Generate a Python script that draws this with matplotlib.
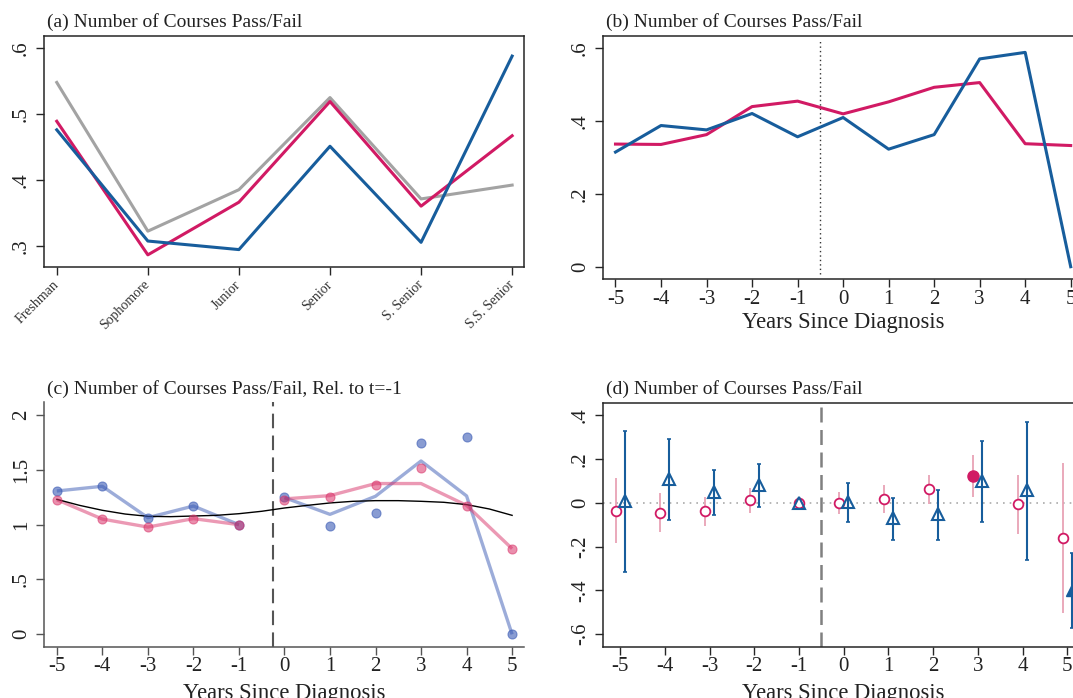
import matplotlib
matplotlib.use("Agg")
import matplotlib.pyplot as plt
import numpy as np

plt.rcParams["font.family"] = ["Liberation Serif", "DejaVu Serif"]
plt.rcParams["axes.unicode_minus"] = False

# ---------------------------------------------------------------- data
class_labels = ["Freshman", "Sophomore", "Junior", "Senior", "S. Senior", "S.S. Senior"]
a_gray = [0.548, 0.322, 0.385, 0.525, 0.371, 0.392]
a_red = [0.489, 0.286, 0.366, 0.519, 0.360, 0.467]
a_blue = [0.476, 0.307, 0.294, 0.451, 0.305, 0.588]

years = [-5, -4, -3, -2, -1, 0, 1, 2, 3, 4, 5]
b_red = [0.337, 0.336, 0.363, 0.440, 0.455, 0.420, 0.453, 0.493, 0.506, 0.338, 0.333]
b_blue = [0.315, 0.388, 0.376, 0.421, 0.357, 0.410, 0.323, 0.363, 0.571, 0.589, 0.0]

c_blue_dots = [1.307, 1.350, 1.064, 1.170, 1.0, 1.250, 0.987, 1.106, 1.743, 1.795, 0.0]
c_red_dots = [1.228, 1.051, 0.978, 1.055, 1.0, 1.222, 1.253, 1.362, 1.521, 1.167, 0.781]
c_blue_line = [1.307, 1.350, 1.064, 1.170, 1.0, 1.247, 1.094, 1.259, 1.581, 1.262, 0.0]
c_red_line = [1.228, 1.051, 0.978, 1.055, 1.0, 1.235, 1.265, 1.375, 1.375, 1.176, 0.781]
c_fit_x = [-5, -4.5, -4, -3.5, -3, -2.5, -2, -1.5, -1, -0.5, 0,
           0.5, 1, 1.5, 2, 2.5, 3, 3.5, 4, 4.5, 5]
c_fit_y = [1.231, 1.176, 1.131, 1.097, 1.076, 1.073, 1.079, 1.085, 1.100, 1.122, 1.152,
           1.176, 1.198, 1.213, 1.219, 1.219, 1.213, 1.204, 1.183, 1.143, 1.085]

d_red = [-0.038, -0.046, -0.040, 0.014, 0.0, 0.0, 0.017, 0.061, 0.123, -0.008, -0.163]
d_red_lo = [-0.182, -0.133, -0.105, -0.046, 0.0, -0.052, -0.049, -0.008, 0.027, -0.141, -0.505]
d_red_hi = [0.111, 0.043, 0.027, 0.067, 0.0, 0.049, 0.079, 0.128, 0.219, 0.125, 0.181]
d_blue = [0.007, 0.107, 0.049, 0.081, 0.0, 0.003, -0.071, -0.052, 0.099, 0.056, -0.398]
d_blue_lo = [-0.317, -0.079, -0.056, -0.021, 0.0, -0.088, -0.172, -0.172, -0.090, -0.261, -0.571]
d_blue_hi = [0.327, 0.289, 0.150, 0.176, 0.0, 0.090, 0.023, 0.059, 0.281, 0.369, -0.231]

titles = ["(a) Number of Courses Pass/Fail",
          "(b) Number of Courses Pass/Fail",
          "(c) Number of Courses Pass/Fail, Rel. to t=-1",
          "(d) Number of Courses Pass/Fail"]
xlabel = "Years Since Diagnosis"

# ---------------------------------------------------------------- style
BLUE = "#175d9c"
RED = "#d11a64"
GRAY = "#a3a3a3"
PINK = "#e8a2b5"
INK = "#262626"
C_BLUE = "#3b5bb5"
C_RED = "#d9346a"

W, H = 1073, 698
fig = plt.figure(figsize=(W / 100, H / 100), dpi=100)
fig.patch.set_facecolor("white")


def box(l, t, r, b):
    return [l / W, 1 - b / H, (r - l) / W, (b - t) / H]


def ftext(x, y, s, **kw):
    fig.text(x / W, 1 - y / H, s, **kw)


def style(ax, spine_color=INK, full=True):
    for side in ["top", "right"]:
        ax.spines[side].set_visible(full)
    for sp in ax.spines.values():
        sp.set_color(spine_color)
        sp.set_linewidth(1.1)
    ax.tick_params(direction="out", length=5.5, width=1.0, color=spine_color,
                   labelcolor="#222222", labelsize=15)
    ax.tick_params(axis="x", pad=2)
    ax.tick_params(axis="y", pad=4)
    ax.set_facecolor("white")


def yticks(ax, vals, labels):
    ax.set_yticks(vals)
    ax.set_yticklabels(labels, rotation=90, va="center", ha="right")


ys = np.array(years, dtype=float)
year_labels = [str(y) for y in years]

# ---------------------------------------------------------------- (a)
ax = fig.add_axes(box(44.1, 35.7, 523.8, 266.7))
xc = np.arange(len(class_labels))
ax.plot(xc, a_gray, color=GRAY, lw=2.2)
ax.plot(xc, a_red, color=RED, lw=2.2)
ax.plot(xc, a_blue, color=BLUE, lw=2.2)
ax.set_xlim(-0.139, 5.128)
ax.set_ylim(0.268, 0.619)
style(ax)
yticks(ax, [0.3, 0.4, 0.5, 0.6], [".3", ".4", ".5", ".6"])
ax.set_xticks(xc)
ax.set_xticklabels(class_labels, rotation=45, ha="right", va="center",
                   rotation_mode="anchor", fontsize=10, color="#333333")
ax.tick_params(axis="x", pad=6)
ftext(47.2, 26.7, titles[0], ha="left", va="baseline", fontsize=14, color="#222222")

# ---------------------------------------------------------------- (b)
ax = fig.add_axes(box(603.2, 36, 1083, 279.3))
ax.axvline(-0.5, ymin=0.02, ymax=0.985, color="#333333", lw=1.0, ls=(0, (1, 2.2)))
ax.plot(ys, b_red, color=RED, lw=2.2)
ax.plot(ys, b_blue, color=BLUE, lw=2.2)
ax.set_xlim(-5.27, 5.27)
ax.set_ylim(-0.0346, 0.634)
style(ax)
yticks(ax, [0, 0.2, 0.4, 0.6], ["0", ".2", ".4", ".6"])
ax.set_xticks(ys)
ax.set_xticklabels(year_labels)
ftext(606.3, 26.7, titles[1], ha="left", va="baseline", fontsize=14, color="#222222")
ftext(843, 328.3, xlabel, ha="center", va="baseline", fontsize=16.3, color="#222222")

# ---------------------------------------------------------------- (c)
ax = fig.add_axes(box(44.1, 402.3, 523.8, 646.7))
ax.axvline(-0.25, color="#555555", lw=1.5, dashes=(7, 3.5))
pre = ys <= -1
post = ys >= 0
bl = np.array(c_blue_line)
rl = np.array(c_red_line)
for m in (pre, post):
    ax.plot(ys[m], bl[m], color=C_BLUE, alpha=0.5, lw=2.4, solid_capstyle="butt")
    ax.plot(ys[m], rl[m], color=C_RED, alpha=0.5, lw=2.4, solid_capstyle="butt")
ax.plot(c_fit_x, c_fit_y, color="black", lw=1.0)
ax.plot(ys, c_blue_dots, "o", ms=6.5, color=C_BLUE, alpha=0.6, mew=0.8)
ax.plot(ys, c_red_dots, "o", ms=6.5, color=C_RED, alpha=0.55, mew=0.8)
ax.set_xlim(-5.279, 5.257)
ax.set_ylim(-0.113, 2.116)
style(ax, spine_color="#555555", full=False)
yticks(ax, [0, 0.5, 1, 1.5, 2], ["0", ".5", "1", "1.5", "2"])
ax.set_xticks(ys)
ax.set_xticklabels(year_labels)
ftext(47.2, 394.3, titles[2], ha="left", va="baseline", fontsize=14, color="#222222")
ftext(284, 699, xlabel, ha="center", va="baseline", fontsize=16.3, color="#222222")

# ---------------------------------------------------------------- (d)
ax = fig.add_axes(box(603.2, 402.7, 1084.2, 646.7))
ax.axhline(0, color="#aaaaaa", lw=1.2, ls=(0, (1, 3)))
ax.axvline(-0.5, color="#808080", lw=1.8, dashes=(6, 3))
shift = np.where(ys == -1, 0.0, 0.1)
xr = ys - shift
xb = ys + shift
r = np.array(d_red)
rlo = np.array(d_red_lo)
rhi = np.array(d_red_hi)
b = np.array(d_blue)
blo = np.array(d_blue_lo)
bhi = np.array(d_blue_hi)
ax.vlines(xr, rlo, rhi, color=PINK, lw=1.3)
ax.errorbar(xb, b, yerr=[b - blo, bhi - b], fmt="none", ecolor=BLUE,
            elinewidth=1.5, capsize=1.5, capthick=1.2)
r_sig = (rlo > 0) | (rhi < 0)
b_sig = (blo > 0) | (bhi < 0)
ax.plot(xr[~r_sig], r[~r_sig], "o", ms=7, mfc="white", mec=RED, mew=1.3, ls="none")
ax.plot(xr[r_sig], r[r_sig], "o", ms=8, mfc=RED, mec=RED, mew=1.0, ls="none")
ax.plot(xb[~b_sig], b[~b_sig], "^", ms=8.5, mfc="none", mec=BLUE, mew=1.5, ls="none")
ax.plot(xb[b_sig], b[b_sig], "^", ms=9, mfc=BLUE, mec=BLUE, mew=1.0, ls="none")
ax.set_xlim(-5.38, 5.38)
ax.set_ylim(-0.657, 0.456)
style(ax)
yticks(ax, [-0.6, -0.4, -0.2, 0, 0.2, 0.4], ["-.6", "-.4", "-.2", "0", ".2", ".4"])
ax.set_xticks(ys)
ax.set_xticklabels(year_labels)
ftext(606.3, 394, titles[3], ha="left", va="baseline", fontsize=14, color="#222222")
ftext(843.7, 699, xlabel, ha="center", va="baseline", fontsize=16.3, color="#222222")

fig.savefig("out.png", dpi=100, facecolor="white")
